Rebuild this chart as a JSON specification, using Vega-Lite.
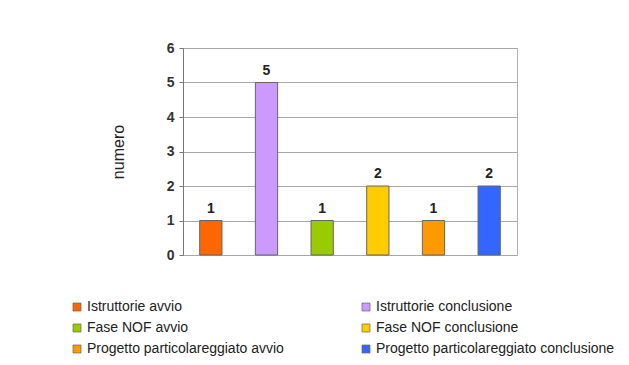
{
  "$schema": "https://vega.github.io/schema/vega-lite/v6.json",
  "width": 334,
  "height": 207,
  "autosize": {"type": "none"},
  "padding": {"left": 183, "top": 48, "right": 112, "bottom": 110},
  "background": "white",
  "config": {
    "font": "Liberation Sans",
    "view": {"stroke": "#b0b0b0", "strokeWidth": 1}
  },
  "data": {
    "values": [
      {"categoria": "Istruttorie avvio", "numero": 1},
      {"categoria": "Istruttorie conclusione", "numero": 5},
      {"categoria": "Fase NOF avvio", "numero": 1},
      {"categoria": "Fase NOF conclusione", "numero": 2},
      {"categoria": "Progetto particolareggiato avvio", "numero": 1},
      {"categoria": "Progetto particolareggiato conclusione", "numero": 2}
    ]
  },
  "encoding": {
    "x": {
      "field": "categoria",
      "type": "nominal",
      "sort": null,
      "scale": {"paddingInner": 0.6, "paddingOuter": 0.3},
      "axis": {"labels": false, "ticks": false, "title": null, "domain": false}
    },
    "y": {
      "field": "numero",
      "type": "quantitative",
      "scale": {"domain": [0, 6], "nice": false},
      "axis": {
        "title": "numero",
        "titleFont": "Liberation Sans",
        "titleFontSize": 16,
        "titleFontWeight": "normal",
        "titleColor": "#222",
        "titlePadding": 40,
        "values": [0, 1, 2, 3, 4, 5, 6],
        "labelFontSize": 14,
        "labelFontWeight": "bold",
        "labelColor": "#333",
        "labelPadding": 5,
        "tickSize": 4,
        "tickColor": "#777",
        "domainColor": "#777",
        "gridColor": "#a8a8a8",
        "gridWidth": 1
      }
    }
  },
  "layer": [
    {
      "mark": {"type": "bar", "stroke": "#666", "strokeWidth": 1},
      "encoding": {
        "color": {
          "field": "categoria",
          "type": "nominal",
          "sort": null,
          "scale": {
            "domain": [
              "Istruttorie avvio",
              "Fase NOF avvio",
              "Progetto particolareggiato avvio",
              "Istruttorie conclusione",
              "Fase NOF conclusione",
              "Progetto particolareggiato conclusione"
            ],
            "range": ["#FF6600", "#99CC00", "#FF9900", "#CC99FF", "#FFCC00", "#3366FF"]
          },
          "legend": {
            "title": null,
            "orient": "none",
            "legendX": -113,
            "legendY": 252,
            "columns": 2,
            "columnPadding": 75,
            "rowPadding": 7,
            "symbolType": "square",
            "symbolSize": 64,
            "symbolStrokeColor": "#666",
            "symbolStrokeWidth": 0.7,
            "labelFontSize": 14,
            "labelColor": "#222",
            "labelOffset": 3,
            "labelLimit": 400
          }
        }
      }
    },
    {
      "mark": {"type": "text", "dy": -12, "fontSize": 14, "fontWeight": "bold", "color": "#222"},
      "encoding": {"text": {"field": "numero", "type": "quantitative"}}
    }
  ]
}
